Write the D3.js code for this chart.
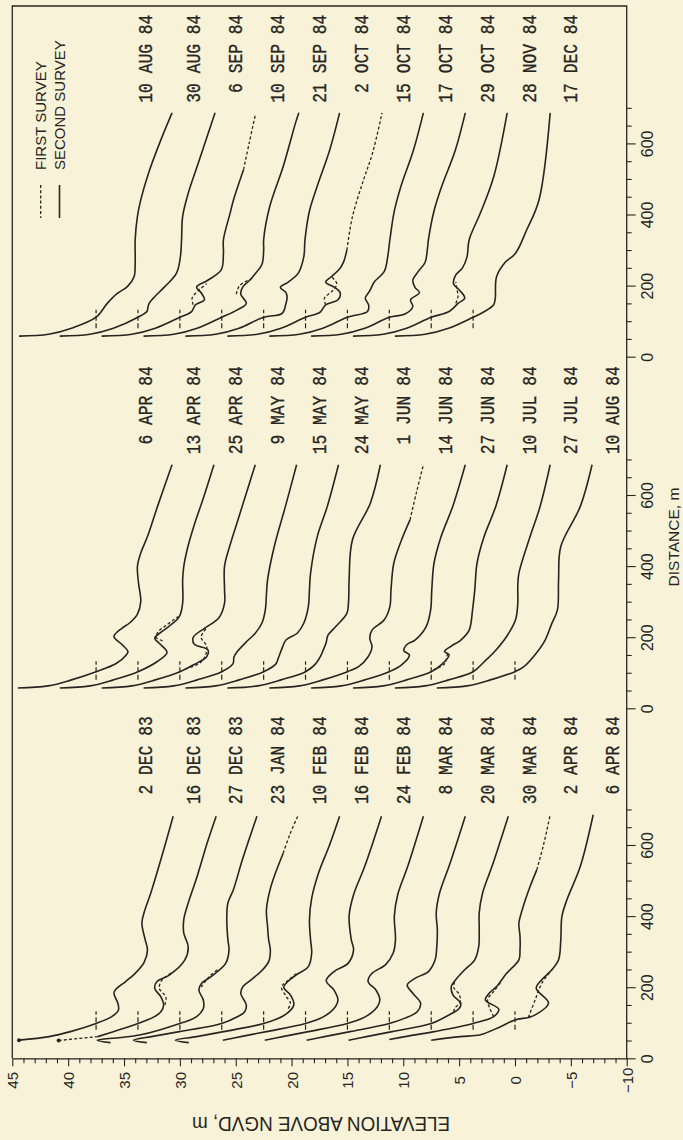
<!DOCTYPE html>
<html><head><meta charset="utf-8">
<script src="https://cdn.jsdelivr.net/npm/d3@7"></script>
<style>
html,body{margin:0;padding:0;background:#f8f3d8;}
svg{display:block;}
</style></head><body>
<svg id="chart" width="683" height="1140"></svg>
<script>
// ---------------- DATA ----------------
// Survey dates (labels between successive profile pairs), one list per panel
const bottomDates = ["2 DEC 83","16 DEC 83","27 DEC 83","23 JAN 84","10 FEB 84","16 FEB 84","24 FEB 84","8 MAR 84","20 MAR 84","30 MAR 84","2 APR 84","6 APR 84"];
const middleDates = ["6 APR 84","13 APR 84","25 APR 84","9 MAY 84","15 MAY 84","24 MAY 84","1 JUN 84","14 JUN 84","27 JUN 84","10 JUL 84","27 JUL 84","10 AUG 84"];
const topDates = ["10 AUG 84","30 AUG 84","6 SEP 84","10 SEP 84","21 SEP 84","2 OCT 84","15 OCT 84","17 OCT 84","29 OCT 84","28 NOV 84","17 DEC 84"];

// vertical (elevation) offset applied to each profile pair, m
const profileOffsets = [37.5, 33.75, 30, 26.25, 22.5, 18.75, 15, 11.25, 7.5, 3.75, 0];

// axis ticks
const elevTicks = d3.range(-10, 46, 1);
const distTicks = d3.range(0, 701, 50);

// Profiles: [distance m, elevation m NGVD]; second survey = solid, first survey = dashed segments
const bottomSecond = [
 [[51,6.9],[61,4.2],[75,2.3],[98,0],[117,-1.4],[136,-2.0],[155,-1.95],[183,-1.6],[195,-1.8],[216,-2.65],[239,-3.5],[270,-4.3],[305,-4.6],[333,-4.4],[380,-4.1],[410,-4.3],[465,-4.9],[559,-5.8],[681,-6.9]],
 [[61,3.6],[75,2.2],[98,0],[115,-1.35],[131,-2.05],[150,-2.3],[173,-2.05],[197,-1.5],[216,-1.7],[234,-2.8],[277,-4.2],[314,-4.5],[352,-4.1],[390,-4.1],[427,-4.4],[512,-5.3],[606,-6.2],[681,-7.0]],
 [[44,6.2],[51,7.4],[58,5.5],[66,3.5],[98,0],[115,-1.4],[140,-2.1],[164,-2.1],[192,-1.7],[211,-1.95],[230,-2.8],[267,-4.1],[305,-4.4],[333,-4.3],[390,-4.2],[437,-4.3],[475,-4.8],[559,-5.6],[681,-6.9]],
 [[44,6.7],[51,7.9],[61,6.3],[75,3.8],[98,0],[116,-1.35],[131,-2.05],[150,-2.2],[183,-1.7],[202,-1.9],[220,-2.6],[244,-3.5],[272,-4.2],[305,-4.35],[333,-4.2],[371,-4.1],[418,-4.0],[483,-4.4],[577,-5.5]],
 [[44,6.7],[51,7.9],[61,6.0],[75,3.6],[98,0],[122,-1.9],[150,-2.7],[178,-2.4],[200,-1.8],[230,-2.7],[258,-4.0],[296,-4.3],[333,-4.2],[390,-4.1],[450,-4.3],[520,-4.9],[600,-5.9],[681,-6.8]],
 [[51,7.4],[61,5.8],[75,3.5],[98,0],[115,-1.5],[140,-2.55],[164,-2.9],[192,-2.55],[218,-1.85],[244,-2.55],[267,-3.8],[305,-4.3],[333,-4.1],[400,-3.9],[460,-4.3],[540,-5.3],[681,-6.8]],
 [[51,7.4],[61,5.8],[75,3.5],[98,0],[115,-1.5],[140,-2.55],[164,-2.9],[192,-2.55],[216,-1.85],[239,-2.2],[263,-3.4],[296,-4.1],[333,-4.3],[400,-4.2],[460,-4.5],[540,-5.4],[681,-6.8]],
 [[51,7.4],[61,5.8],[75,3.5],[98,0],[113,-1.4],[131,-2.5],[155,-2.8],[183,-2.1],[206,-1.6],[225,-2.3],[244,-3.5],[277,-4.1],[314,-4.25],[360,-4.3],[410,-4.2],[465,-4.5],[545,-5.4],[681,-6.8]],
 [[51,7.4],[61,5.8],[75,3.5],[98,0],[122,-1.6],[140,-2.5],[155,-2.65],[178,-1.95],[202,-1.8],[225,-2.3],[249,-3.0],[277,-3.9],[314,-4.25],[360,-4.3],[410,-4.3],[465,-4.6],[545,-5.5],[681,-6.9]],
 [[53,7.5],[61,6.1],[75,3.5],[98,0],[117,-1.84],[138,-2.3],[164,-1.1],[185,-1.5],[202,-2.1],[239,-3.0],[277,-4.1],[305,-4.2],[343,-4.2],[380,-4.1],[418,-4.4],[483,-5.1],[530,-5.7]],
 [[51,7.5],[61,4.9],[66,3.1],[89,1.3],[108,0],[115,-1.2],[122,-1.8],[155,-3.0],[197,-1.9],[221,-2.4],[249,-3.3],[277,-3.9],[333,-4.1],[399,-4.2],[446,-4.65],[540,-5.85],[685,-7.0]]
];
const bottomFirst = [
 [],
 [[[50,7.1],[61,3.6]], [[150,-2.4],[172,-2.5],[197,-1.9],[222,-2.2],[240,-3.0]]],
 [[[200,-1.9],[215,-2.25],[232,-2.7],[250,-3.4]]],
 [[[577,-5.5],[630,-6.1],[681,-6.8]]],
 [[[140,-2.2],[155,-2.4],[175,-2.0],[200,-1.6],[222,-2.3],[240,-3.0]]],
 [], [], [],
 [[[131,-2.0],[140,-2.1],[160,-2.6],[180,-2.5],[200,-2.0],[215,-2.1]]],
 [[[117,-1.84],[140,-1.5],[165,-1.3],[190,-1.9],[215,-2.5]], [[530,-5.7],[600,-6.3],[685,-6.9]]],
 [[[115,-1.2],[164,-1.8],[211,-2.4],[249,-3.3]]]
];

const middleSecond = [
 [[57,7.0],[63,4.3],[80,2.2],[103,0],[126,-1.8],[150,-2.7],[160,-2.85],[180,-2.3],[202,-1.6],[225,-2.3],[240,-3.0],[265,-3.7],[300,-4.0],[352,-3.8],[399,-3.7],[437,-4.0],[483,-4.6],[568,-5.5],[685,-6.8]],
 [[57,7.0],[63,4.3],[80,2.2],[103,0],[131,-1.7],[157,-2.6],[183,-1.9],[197,-1.5],[215,-2.1],[230,-2.75],[258,-3.7],[296,-4.0],[361,-4.0],[399,-4.1],[446,-4.4],[512,-5.0],[596,-5.9],[685,-6.8]],
 [[57,7.0],[63,4.3],[80,2.2],[103,0],[122,-1.2],[145,-2.4],[165,-2.5],[180,-1.3],[200,-1.2],[225,-2.2],[255,-3.5],[296,-4.0],[333,-4.0],[400,-4.0],[460,-4.5],[520,-5.1],[600,-5.9],[685,-6.75]],
 [[57,7.0],[63,4.3],[80,2.2],[103,0],[125,-1.0],[145,-1.1],[160,-1.4],[190,-2.3],[211,-3.0],[240,-3.6],[277,-3.9],[320,-4.0],[361,-4.1],[455,-4.7],[568,-5.7],[685,-6.7]],
 [[57,7.0],[63,4.3],[80,2.2],[103,0],[125,-1.1],[140,-1.3],[165,-1.6],[192,-2.0],[211,-3.0],[240,-3.6],[286,-4.0],[333,-4.1],[380,-4.2],[483,-4.8],[568,-5.7],[685,-6.7]],
 [[57,7.0],[63,4.3],[80,2.2],[103,0],[125,-0.9],[150,-1.4],[165,-1.6],[185,-1.85],[205,-2.0],[230,-2.7],[267,-3.7],[300,-3.85],[361,-3.9],[474,-4.2],[577,-5.8],[685,-6.7]],
 [[57,7.0],[63,4.3],[80,2.2],[103,0],[117,-1.0],[145,-1.85],[173,-2.2],[197,-2.0],[220,-2.2],[249,-3.3],[286,-3.8],[333,-3.9],[408,-4.15],[470,-4.8],[530,-5.6]],
 [[57,7.0],[63,4.3],[80,2.2],[103,0],[122,-1.1],[150,-1.8],[162,-1.3],[180,-1.6],[192,-2.3],[230,-3.3],[277,-3.7],[333,-3.8],[408,-4.0],[480,-4.6],[570,-5.7],[685,-6.8]],
 [[57,7.0],[63,4.3],[80,2.2],[103,0],[125,-1.0],[150,-1.6],[160,-1.2],[175,-1.8],[192,-2.65],[220,-3.4],[277,-3.7],[333,-3.9],[408,-4.1],[480,-4.7],[570,-5.8],[685,-6.8]],
 [[57,7.0],[63,4.3],[80,2.2],[103,0],[131,-1.0],[164,-2.05],[202,-3.0],[249,-3.8],[296,-4.0],[343,-4.0],[380,-4.1],[483,-5.1],[568,-6.0],[685,-6.9]],
 [[57,7.0],[63,4.3],[80,2.2],[103,0],[117,-0.8],[155,-1.9],[192,-2.7],[239,-3.3],[277,-3.8],[361,-3.9],[455,-4.1],[568,-5.85],[685,-6.9]]
];
const middleFirst = [
 [],
 [[[190,-2.2],[200,-1.6],[215,-1.8],[235,-2.6],[258,-3.6]]],
 [[[110,-0.5],[130,-1.9],[150,-2.3],[175,-2.4],[200,-1.9],[230,-2.5]]],
 [], [], [],
 [[[530,-5.6],[610,-6.2],[685,-6.8]]],
 [],
 [[[108,-0.2],[125,-1.2],[145,-1.4],[160,-1.5]]],
 [], []
];

const topSecond = [
 [[58,6.9],[63,4.25],[80,2.2],[111,0],[150,-1.0],[178,-1.9],[197,-2.8],[225,-3.4],[263,-3.5],[329,-3.5],[394,-3.7],[441,-4.0],[517,-4.7],[610,-5.8],[686,-6.8]],
 [[58,7.0],[63,4.3],[80,2.2],[111,0],[127,-0.8],[140,-0.9],[150,-1.0],[164,-1.35],[197,-2.4],[235,-3.45],[282,-3.8],[329,-3.9],[395,-4.0],[460,-4.5],[545,-5.4],[686,-6.9]],
 [[58,7.0],[63,4.3],[80,2.2],[111,0],[127,-1.05],[146,-1.4],[160,-2.2],[180,-1.9],[196,-1.5],[215,-2.5],[244,-3.7],[291,-3.9],[329,-3.9],[404,-4.5],[441,-4.8],[526,-5.7]],
 [[58,7.0],[63,4.3],[80,2.2],[111,0],[131,-1.35],[150,-2.2],[176,-1.7],[197,-1.9],[215,-2.5],[230,-2.9],[260,-3.6],[300,-3.75],[329,-3.75],[423,-4.3],[535,-5.5],[657,-6.6],[686,-6.9]],
 [[58,7.0],[63,4.3],[80,2.2],[111,0],[122,-1.66],[150,-2.0],[165,-2.1],[180,-2.0],[195,-1.5],[210,-2.2],[235,-3.1],[282,-3.6],[329,-3.7],[410,-4.1],[480,-4.8],[580,-5.9],[686,-6.8]],
 [[58,7.0],[63,4.3],[80,2.2],[111,0],[125,-1.3],[146,-1.8],[160,-2.9],[180,-3.1],[195,-2.6],[210,-1.8],[225,-2.3],[245,-3.0],[266,-3.4],[300,-3.7]],
 [[58,7.0],[63,4.3],[80,2.2],[111,0],[127,-1.8],[145,-1.9],[165,-1.6],[185,-2.0],[210,-2.4],[240,-3.3],[280,-3.6],[329,-3.8],[410,-4.2],[480,-4.8],[580,-5.9],[686,-6.8]],
 [[58,7.0],[63,4.3],[80,2.2],[111,0],[120,-1.4],[141,-2.1],[160,-1.9],[180,-2.7],[195,-2.3],[215,-2.1],[240,-2.6],[265,-3.2],[300,-3.4],[329,-3.5],[410,-4.0],[480,-4.7],[580,-5.9],[686,-6.8]],
 [[58,7.0],[63,4.3],[80,2.2],[111,0],[127,-1.6],[150,-2.4],[165,-3.0],[185,-2.6],[205,-2.0],[230,-2.2],[250,-2.8],[280,-3.2],[329,-3.4],[404,-4.4],[507,-5.6],[686,-6.8]],
 [[58,7.0],[63,4.3],[80,2.2],[111,0],[125,-0.9],[146,-1.84],[170,-2.0],[188,-2.0],[225,-2.1],[263,-2.8],[291,-3.8],[357,-4.8],[441,-5.9],[686,-6.9]]
];
const topFirst = [
 [], [],
 [[[146,-1.2],[165,-1.1],[190,-1.8],[205,-2.4]], [[526,-5.7],[600,-6.2],[681,-6.76]]],
 [[[176,-1.3],[200,-1.6],[220,-2.7]]],
 [],
 [[[146,-1.8],[165,-1.7],[185,-2.4],[205,-2.8],[225,-2.3]], [[300,-3.7],[394,-4.2],[498,-5.2],[573,-6.0],[686,-6.85]]],
 [], [],
 [[[150,-2.2],[170,-2.4],[190,-2.3],[210,-2.2]]],
 []
];

// ---------------- DRAW ----------------
const W = 683, H = 1140;
const BG = "#f8f3d8", INK = "#262521";
const svg = d3.select("#chart");
svg.append("rect").attr("width", W).attr("height", H).attr("fill", BG);

const xE = d3.scaleLinear().domain([45, -10]).range([12.3, 626.7]);
const frameTop = 6;
const panelBases = [1058.3, 708.3, 356.7];
const pxPerM = 0.3555;
const yScales = panelBases.map(b => d3.scaleLinear().domain([0, 700]).range([b, b - 700 * pxPerM]));

const panels = [
  {dates: bottomDates, second: bottomSecond, first: bottomFirst, ys: yScales[0], base: panelBases[0]},
  {dates: middleDates, second: middleSecond, first: middleFirst, ys: yScales[1], base: panelBases[1]},
  {dates: topDates, second: topSecond, first: topFirst, ys: yScales[2], base: panelBases[2]}
];

const sans = "'Liberation Sans', Arial, Helvetica, sans-serif";
const mono = "'Liberation Mono', 'DejaVu Sans Mono', monospace";

// frame (left + top + right)
svg.append("path")
  .attr("d", `M${xE(45)},${panelBases[0]}V${frameTop}H${xE(-10)}V${panelBases[0]}`)
  .attr("fill", "none").attr("stroke", INK).attr("stroke-width", 1.3);

// elevation axis (bottom)
const axB = d3.axisBottom(xE).tickValues(elevTicks).tickSizeOuter(0)
  .tickFormat(d => d % 5 === 0 ? (d < 0 ? "\u2212" + (-d) : String(d)) : "");
const gB = svg.append("g").attr("transform", `translate(0,${panelBases[0]})`).call(axB)
  .attr("font-family", sans).attr("font-size", 15).attr("color", INK);
gB.select(".domain").attr("stroke-width", 1.3);
gB.selectAll(".tick line").attr("y2", d => d % 5 === 0 ? 8 : 5).attr("stroke-width", 1.1);
gB.selectAll(".tick text").attr("y", 0).attr("dy", null)
  .attr("text-anchor", "middle").attr("dominant-baseline", "central")
  .attr("transform", "translate(0,22) rotate(-90)");

// distance axes (right), one per panel
panels.forEach(p => {
  const ax = d3.axisRight(p.ys).tickValues(distTicks).tickSizeOuter(0)
    .tickFormat(d => d % 200 === 0 ? String(d) : "");
  const g = svg.append("g").attr("transform", `translate(${xE(-10)},0)`).call(ax)
    .attr("font-family", sans).attr("font-size", 16).attr("color", INK);
  g.select(".domain").remove();
  g.selectAll(".tick line").attr("x2", d => d % 200 === 0 ? 9 : 5).attr("stroke-width", 1.1);
  g.selectAll(".tick text").attr("x", 0).attr("dy", null)
    .attr("text-anchor", "middle").attr("dominant-baseline", "central")
    .attr("transform", "translate(21,0) rotate(-90)");
});

// profiles
panels.forEach(p => {
  const g = svg.append("g");
  p.second.forEach((prof, i) => {
    const off = profileOffsets[i];
    const line = d3.line()
      .x(d => xE(d[1] + off))
      .y(d => p.ys(d[0]))
      .curve(d3.curveCatmullRom.alpha(0.5));
    // datum tick (+)
    g.append("line")
      .attr("x1", xE(off)).attr("x2", xE(off))
      .attr("y1", p.ys(80)).attr("y2", p.ys(132))
      .attr("stroke", INK).attr("stroke-width", 1.2).attr("stroke-dasharray", "5,2.5");
    // first survey (dashed)
    (p.first[i] || []).forEach(seg => {
      g.append("path").attr("d", line(seg)).attr("fill", "none")
        .attr("stroke", INK).attr("stroke-width", 1.3).attr("stroke-dasharray", "3,2.2");
    });
    // second survey (solid)
    g.append("path").attr("d", line(prof)).attr("fill", "none")
      .attr("stroke", INK).attr("stroke-width", 1.6).attr("stroke-linejoin", "round");
  });
  // date labels
  p.dates.forEach((t, k) => {
    const e = k === 0 ? profileOffsets[0] - 4.6 : profileOffsets[k - 1] - 8.9;
    g.append("text")
      .attr("transform", `translate(${xE(e)},${p.base - 342}) rotate(-90) scale(1,1.25)`)
      .attr("text-anchor", "end").attr("dominant-baseline", "central")
      .attr("font-family", mono).attr("font-size", 16.3).attr("fill", INK)
      .attr("stroke", INK).attr("stroke-width", 0.25)
      .text(t);
  });
});

// start dots (bottom panel, first two profiles)
[[bottomSecond[0][0], profileOffsets[0]], [bottomFirst[1][0][0], profileOffsets[1]]].forEach(([pt, off]) => {
  svg.append("circle").attr("cx", xE(pt[1] + off)).attr("cy", yScales[0](pt[0])).attr("r", 2).attr("fill", INK);
});

// legend
const legX1 = 40.7, legX2 = 59.5;
svg.append("line").attr("x1", legX1).attr("x2", legX1).attr("y1", 185).attr("y2", 218)
  .attr("stroke", INK).attr("stroke-width", 1.3).attr("stroke-dasharray", "3,2.2");
svg.append("line").attr("x1", legX2).attr("x2", legX2).attr("y1", 185).attr("y2", 218)
  .attr("stroke", INK).attr("stroke-width", 1.6);
[["FIRST SURVEY", legX1], ["SECOND SURVEY", legX2]].forEach(([t, x]) => {
  svg.append("text").attr("transform", `translate(${x},170) rotate(-90)`)
    .attr("text-anchor", "start").attr("dominant-baseline", "central")
    .attr("font-family", sans).attr("font-size", 15).attr("fill", INK).text(t);
});

// axis titles
svg.append("text").attr("transform", "translate(673,537) rotate(-90)")
  .attr("text-anchor", "middle").attr("dominant-baseline", "central")
  .attr("font-family", sans).attr("font-size", 15.5).attr("fill", INK).text("DISTANCE, m");
svg.append("text").attr("transform", "translate(321,1124) rotate(180)")
  .attr("text-anchor", "middle").attr("dominant-baseline", "central")
  .attr("font-family", sans).attr("font-size", 21).attr("fill", INK)
  .attr("textLength", 258).attr("lengthAdjust", "spacingAndGlyphs")
  .text("ELEVATION ABOVE NGVD, m");
</script>
</body></html>
